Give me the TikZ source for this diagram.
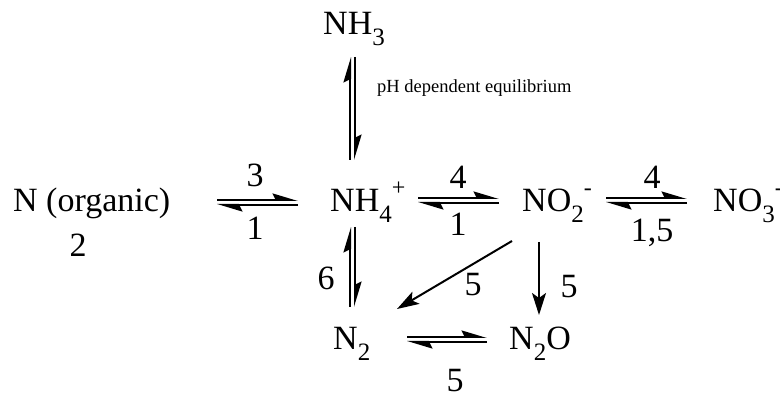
\documentclass[tikz,border=0pt]{standalone}
\usepackage{fontspec}
\setmainfont{Liberation Serif}
\usetikzlibrary{arrows.meta}
\newcommand{\chsub}[1]{\raisebox{-11pt}{\fontsize{25}{25}\selectfont #1}}
\newcommand{\chsup}[1]{\raisebox{16pt}{\fontsize{24}{24}\selectfont #1}}

\begin{document}
\begin{tikzpicture}[x=1pt, y=1pt,
    species/.style={inner sep=0pt, anchor=base west, font=\fontsize{34}{40}\selectfont},
    rate/.style={inner sep=0pt, font=\fontsize{34}{40}\selectfont},
    fwd/.style={line width=2pt, -{Stealth[left, length=22pt, width=13pt, inset=3pt]}},
    full/.style={line width=2pt, -{Stealth[length=22pt, width=14pt, inset=5pt]}}]
  \useasboundingbox (0,0) rectangle (780,394);
  % species
  \node[species] (org) at (13,182) {N (organic)};
  \node[species] (nh3) at (323,359) {NH\chsub{3}};
  \node[species] (nh4) at (330,182) {NH\chsub{4}\chsup{+}};
  \node[species] (no2) at (522,182) {NO\chsub{2}\chsup{-}};
  \node[species] (no3) at (713,182) {NO\chsub{3}\chsup{-}};
  \node[species] (n2) at (333,44) {N\chsub{2}};
  \node[species] (n2o) at (509,44) {N\chsub{2}O};
  % equilibria
  \draw[fwd] ([shift={(204pt,12pt)}]org.base west) -- ([shift={(-32pt,12pt)}]nh4.base west);
  \draw[fwd] ([shift={(-32pt,7pt)}]nh4.base west) -- ([shift={(204pt,7pt)}]org.base west);
  \draw[fwd] ([shift={(88pt,14pt)}]nh4.base west) -- ([shift={(-23pt,14pt)}]no2.base west);
  \draw[fwd] ([shift={(-23pt,9pt)}]no2.base west) -- ([shift={(88pt,9pt)}]nh4.base west);
  \draw[fwd] ([shift={(84pt,14pt)}]no2.base west) -- ([shift={(-26pt,14pt)}]no3.base west);
  \draw[fwd] ([shift={(-26pt,9pt)}]no3.base west) -- ([shift={(84pt,9pt)}]no2.base west);
  \draw[fwd] ([shift={(74pt,13pt)}]n2.base west) -- ([shift={(-22pt,13pt)}]n2o.base west);
  \draw[fwd] ([shift={(-22pt,8pt)}]n2o.base west) -- ([shift={(74pt,8pt)}]n2.base west);
  \draw[fwd] ([shift={(20pt,52pt)}]nh4.base west) -- ([shift={(27pt,-22pt)}]nh3.base west);
  \draw[fwd] ([shift={(32pt,-22pt)}]nh3.base west) -- ([shift={(25pt,52pt)}]nh4.base west);
  \draw[fwd] ([shift={(17pt,43pt)}]n2.base west) -- ([shift={(20pt,-15pt)}]nh4.base west);
  \draw[fwd] ([shift={(25pt,-15pt)}]nh4.base west) -- ([shift={(22pt,43pt)}]n2.base west);
  % one-way steps
  \draw[full] ([shift={(17pt,-30pt)}]no2.base west) -- ([shift={(30pt,35pt)}]n2o.base west);
  \draw[full] ([shift={(-10pt,-29pt)}]no2.base west) -- ([shift={(64pt,41pt)}]n2.base west);
  % rate labels
  \node[rate] (k3) at (255,219) {3};
  \node[rate] (k1a) at (255,166) {1};
  \node[rate] (k2) at (78,149) {2};
  \node[rate] (k4a) at (458,217) {4};
  \node[rate] (k1b) at (458,170) {1};
  \node[rate] (k4b) at (652,217) {4};
  \node[rate] (k15) at (652,161) {1,5};
  \node[rate] (k6) at (326,116) {6};
  \node[rate] (k5a) at (473,109) {5};
  \node[rate] (k5b) at (569,107) {5};
  \node[rate] (k5c) at (455,13) {5};
  \node[inner sep=0pt, anchor=base west, font=\fontsize{18.5}{22}\selectfont] (ph) at (377,301) {pH dependent equilibrium};
\end{tikzpicture}
\end{document}
